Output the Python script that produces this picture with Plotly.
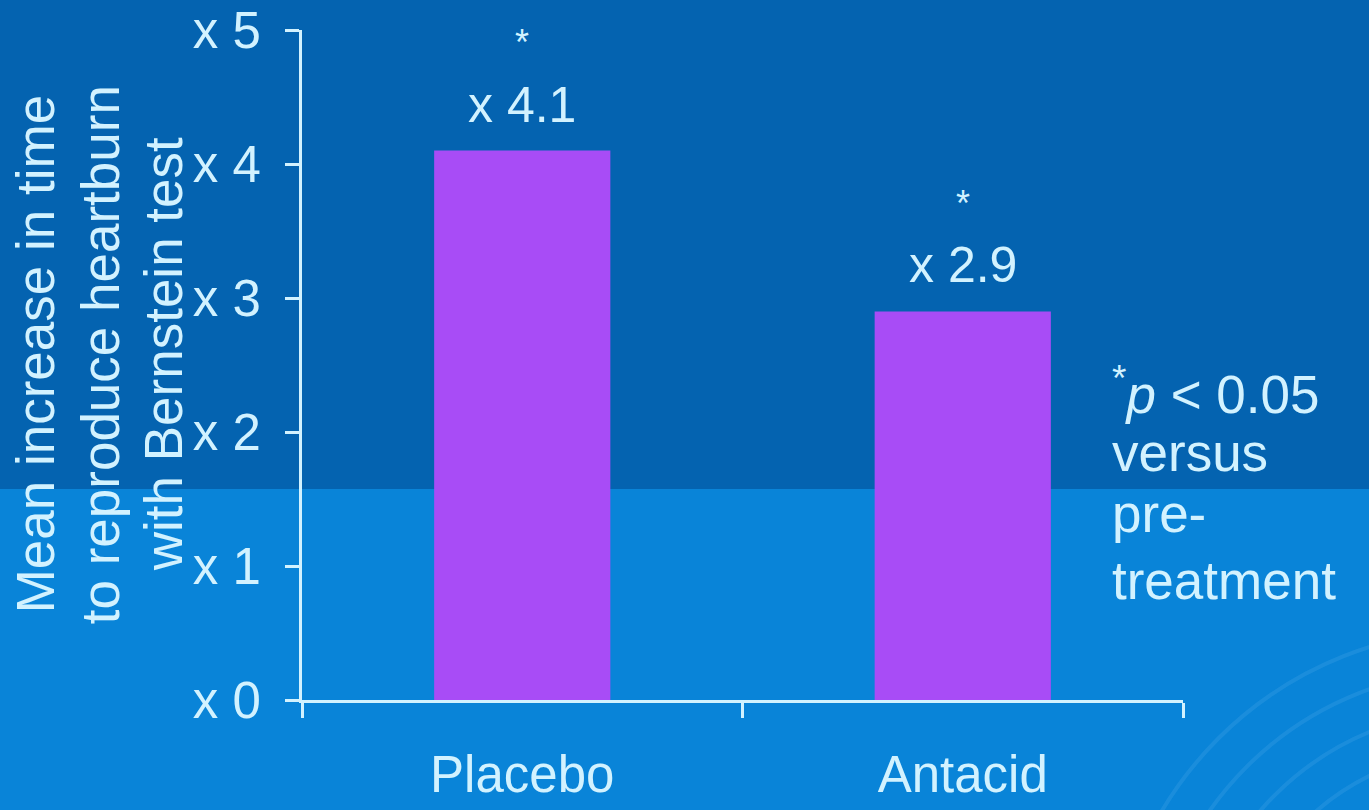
import plotly.graph_objects as go

# Data
categories = ["Placebo", "Antacid"]
fold_increase = [4.1, 2.9]
significance = ["*", "*"]
y_tick_values = [0, 1, 2, 3, 4, 5]
y_tick_labels = ["x 0", "x 1", "x 2", "x 3", "x 4", "x 5"]
y_title_lines = ["Mean increase in time", "to reproduce heartburn", "with Bernstein test"]
note_lines = ["<sup>*</sup><i>p</i> &lt; 0.05", "versus", "pre-", "treatment"]

FONT = "Liberation Sans, Arial, sans-serif"
TEXT = "#d2f2ff"
BG_DARK = "#0463b0"
BG_LIGHT = "#0984d8"
BAR = "#a84cf6"

fig = go.Figure(
    go.Bar(
        x=categories,
        y=fold_increase,
        width=0.4,
        marker=dict(color=BAR, line=dict(width=0)),
        showlegend=False,
    )
)

annotations = []
# value labels and significance markers above each bar
for cat, val, sig in zip(categories, fold_increase, significance):
    annotations.append(dict(
        x=cat, y=val, xref="x", yref="y", text=f"x {val}",
        showarrow=False, yanchor="middle", yshift=46,
        font=dict(family=FONT, size=50, color=TEXT),
    ))
    annotations.append(dict(
        x=cat, y=val, xref="x", yref="y", text=sig,
        showarrow=False, yanchor="middle", yshift=108,
        font=dict(family=FONT, size=36, color=TEXT),
    ))

# rotated y-axis title, one annotation per line
for xpos, line in zip([-0.303, -0.2293, -0.1578], y_title_lines):
    annotations.append(dict(
        x=xpos, y=0.516, xref="paper", yref="paper", text=line,
        textangle=-90, showarrow=False, xanchor="center", yanchor="middle",
        font=dict(family=FONT, size=53, color=TEXT),
    ))

# footnote on the right
for ypos, line in zip([0.462, 0.370, 0.279, 0.179], note_lines):
    annotations.append(dict(
        x=0.917, y=ypos, xref="paper", yref="paper", text=line,
        showarrow=False, xanchor="left", yanchor="middle", align="left",
        font=dict(family=FONT, size=53, color=TEXT),
    ))

shapes = [
    # lighter lower band of the background
    dict(type="rect", xref="paper", yref="paper", x0=-1, x1=2, y0=-0.2, y1=0.315,
         fillcolor=BG_LIGHT, line=dict(width=0), layer="below"),
]
# faint decorative arcs in the bottom-right corner
for r in [250, 290, 330, 370]:
    shapes.append(dict(
        type="circle", xref="paper", yref="paper",
        xsizemode="pixel", ysizemode="pixel",
        xanchor=1.337, yanchor=-0.448,
        x0=-r, x1=r, y0=-r, y1=r,
        line=dict(color="rgba(120,190,245,0.16)", width=4),
        fillcolor="rgba(0,0,0,0)", layer="below",
    ))

fig.update_layout(
    width=1369, height=810,
    margin=dict(l=302, r=186, t=30, b=110),
    paper_bgcolor=BG_DARK,
    plot_bgcolor="rgba(0,0,0,0)",
    font=dict(family=FONT, size=50, color=TEXT),
    annotations=annotations,
    shapes=shapes,
)

fig.update_xaxes(
    type="category",
    tickson="boundaries",
    automargin=False,
    showline=True, linecolor=TEXT, linewidth=3,
    ticks="outside", ticklen=15, tickwidth=3, tickcolor=TEXT,
    showgrid=False, zeroline=False,
    ticklabelstandoff=28,
    tickfont=dict(family=FONT, size=51, color=TEXT),
)
fig.update_yaxes(
    range=[0, 5],
    automargin=False,
    tickvals=y_tick_values, ticktext=y_tick_labels,
    showline=True, linecolor=TEXT, linewidth=3,
    ticks="outside", ticklen=14, tickwidth=3, tickcolor=TEXT,
    showgrid=False, zeroline=False,
    ticklabelstandoff=14,
    tickfont=dict(family=FONT, size=51, color=TEXT),
)

fig.write_html("out.html")
